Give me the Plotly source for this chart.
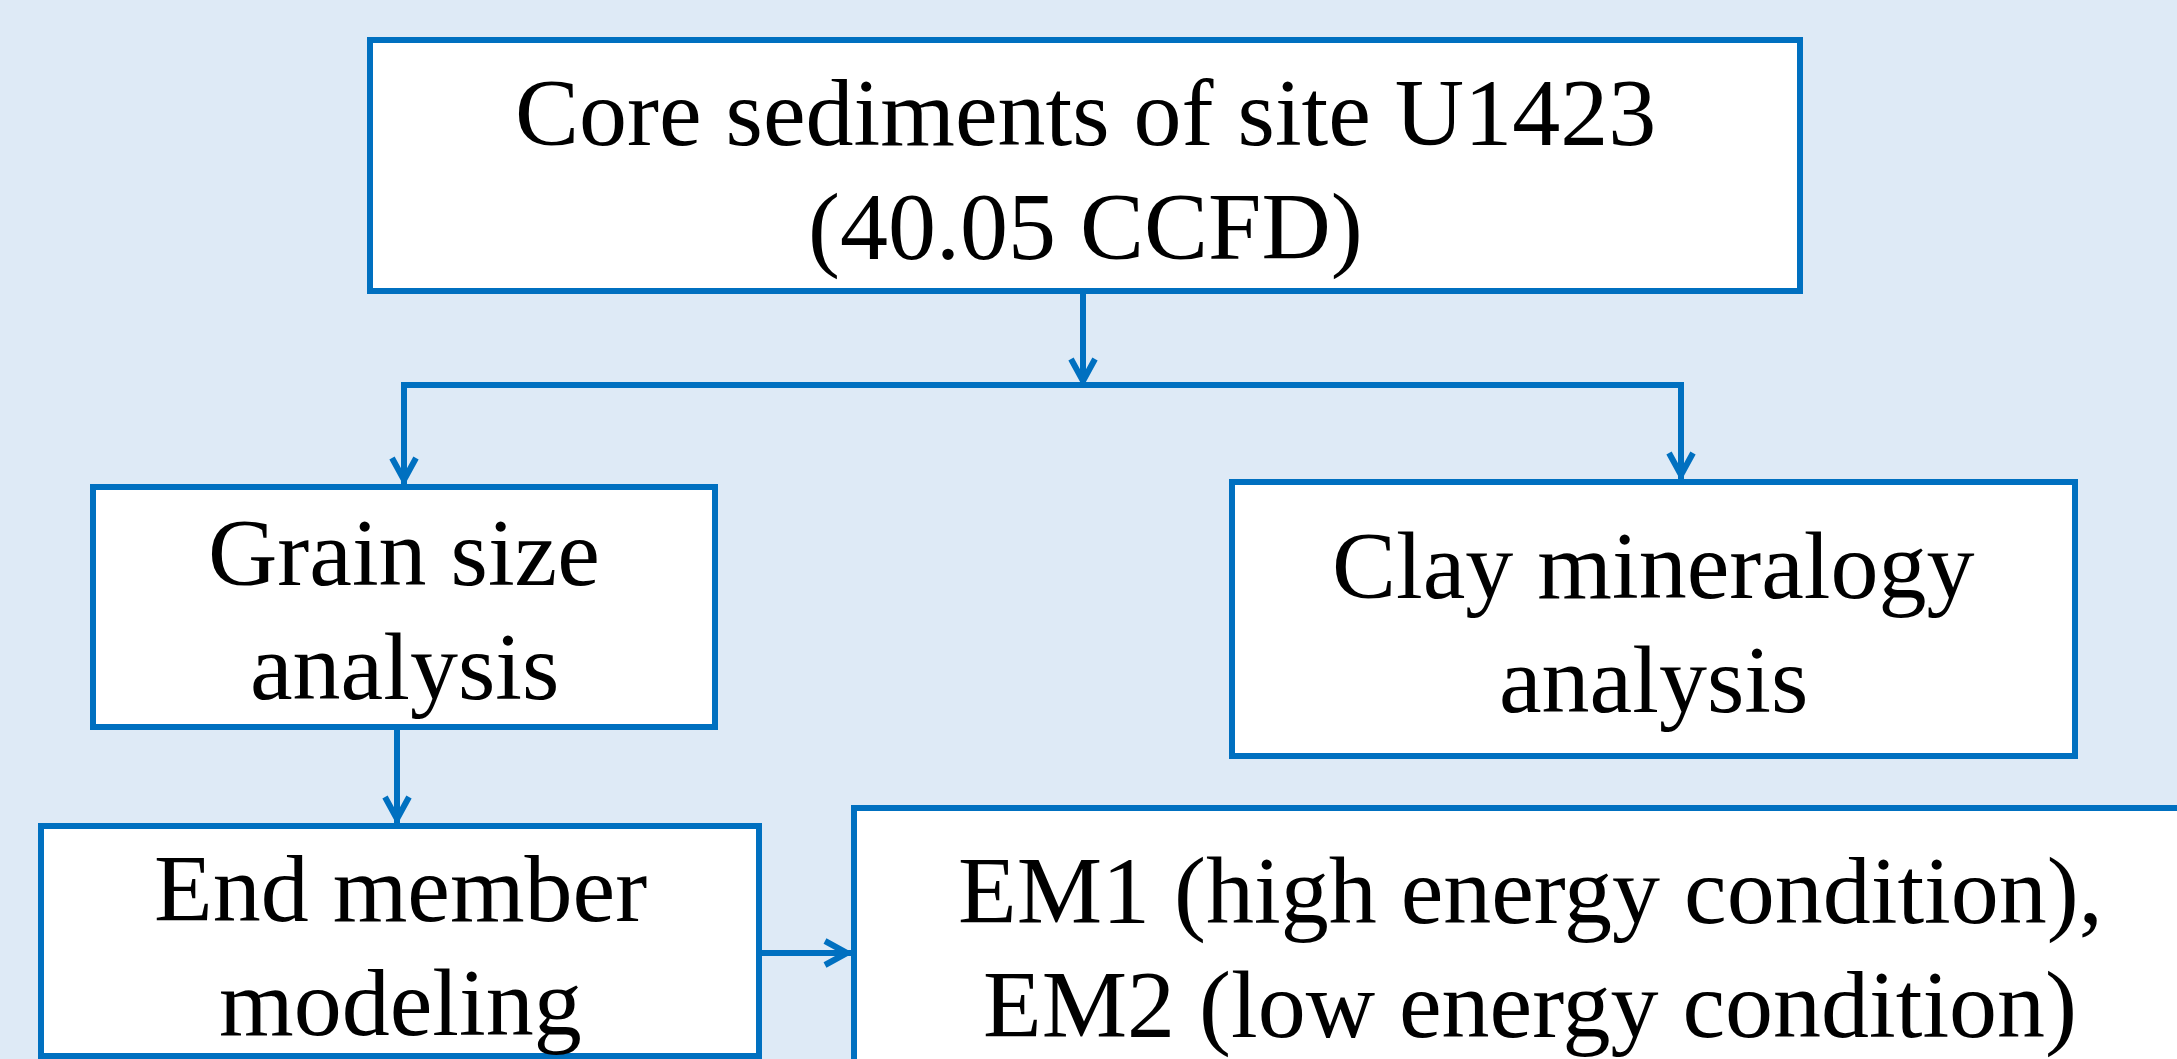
import plotly.graph_objects as go

# ---- content (text of each box, one entry per line) ----
box_names = ["core", "grain", "clay", "endmember", "em"]
line1 = ["Core sediments of site U1423", "Grain size", "Clay mineralogy",
         "End member", "EM1 (high energy condition),"]
line2 = ["(40.05 CCFD)", "analysis", "analysis",
         "modeling", "EM2 (low energy condition)"]

# ---- layout geometry (pixels) ----
W, H = 2177, 1059
box_x0 = [370, 93, 1232, 41, 854]
box_x1 = [1800, 715, 2075, 759, 2206]
box_y0 = [40, 487, 482, 826, 808]
box_y1 = [291, 727, 756, 1056, 1110]
text_cy = [169, 609, 622, 945, 947]
text_cx = [1085, 404, 1653, 400, 1530]
LINE_GAP = 114

BG = "#DEEAF6"
BLUE = "#0070C0"
LW = 6
FONT = dict(family="Liberation Serif, Times New Roman, serif", size=96, color="black")

fig = go.Figure()
shapes = []
annotations = []

for i in range(len(box_names)):
    shapes.append(dict(type="rect", xref="x", yref="y",
                       x0=box_x0[i], x1=box_x1[i], y0=box_y0[i], y1=box_y1[i],
                       line=dict(color=BLUE, width=LW), fillcolor="white", layer="below"))
    for txt, dy in ((line1[i], -LINE_GAP / 2), (line2[i], LINE_GAP / 2)):
        annotations.append(dict(x=text_cx[i], y=text_cy[i] + dy, xref="x", yref="y",
                                text=txt, showarrow=False, font=FONT,
                                xanchor="center", yanchor="middle"))

# connector geometry
split_y = 385
left_x = 404
right_x = 1681
top_cx = 1083
gx = 397
em_arrow_y = 953

shapes.append(dict(type="line", xref="x", yref="y", x0=left_x - LW / 2, x1=right_x + LW / 2,
                   y0=split_y, y1=split_y, line=dict(color=BLUE, width=LW)))

HEAD_LEN, HEAD_HALF = 22, 12


def arrow(x0, y0, x1, y1):
    # shaft
    shapes.append(dict(type="line", xref="x", yref="y", x0=x0, y0=y0, x1=x1, y1=y1,
                       line=dict(color=BLUE, width=LW)))
    # open chevron head, pointing from (x0,y0) toward (x1,y1)
    dx, dy = x1 - x0, y1 - y0
    n = (dx * dx + dy * dy) ** 0.5
    ux, uy = dx / n, dy / n
    px, py = -uy, ux
    vx, vy = x1 - ux * 4, y1 - uy * 4
    ax_, ay_ = vx - ux * HEAD_LEN + px * HEAD_HALF, vy - uy * HEAD_LEN + py * HEAD_HALF
    bx_, by_ = vx - ux * HEAD_LEN - px * HEAD_HALF, vy - uy * HEAD_LEN - py * HEAD_HALF
    shapes.append(dict(type="path", xref="x", yref="y",
                       path=f"M{ax_},{ay_} L{vx},{vy} L{bx_},{by_}",
                       line=dict(color=BLUE, width=LW)))


arrow(top_cx, box_y1[0], top_cx, split_y)
arrow(left_x, split_y, left_x, box_y0[1] - 3)
arrow(right_x, split_y, right_x, box_y0[2] - 3)
arrow(gx, box_y1[1], gx, box_y0[3] - 3)
arrow(box_x1[3], em_arrow_y, box_x0[4] - 3, em_arrow_y)

fig.update_layout(
    width=W, height=H,
    margin=dict(l=0, r=0, t=0, b=0),
    paper_bgcolor=BG, plot_bgcolor=BG,
    xaxis=dict(range=[0, W], visible=False, fixedrange=True),
    yaxis=dict(range=[H, 0], visible=False, fixedrange=True),
    shapes=shapes, annotations=annotations, showlegend=False,
)

fig.write_html("out.html", config={"displayModeBar": False},
               post_script="document.body.style.margin='0';document.body.style.overflow='hidden';")
